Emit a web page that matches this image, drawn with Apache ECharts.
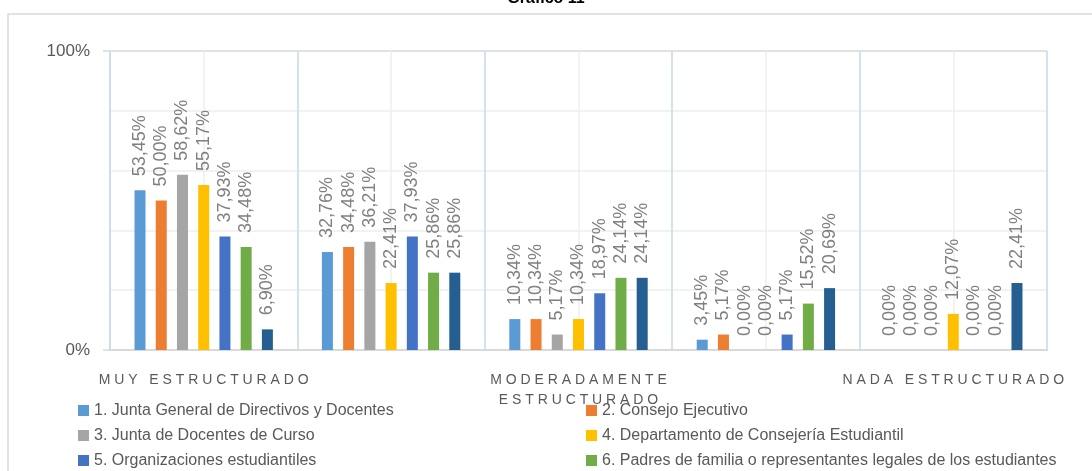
<!DOCTYPE html>
<html>
<head>
<meta charset="utf-8">
<script src="https://cdn.jsdelivr.net/npm/echarts@6/dist/echarts.min.js"></script>
<style>
  html, body { margin: 0; padding: 0; background: #fff; }
  #chart { width: 1092px; height: 471px; }
</style>
</head>
<body>
<div id="chart"></div>
<script>
// categorías del eje X
const categories = ['MUY ESTRUCTURADO', 'ESTRUCTURADO', 'MODERADAMENTE ESTRUCTURADO', 'POCO ESTRUCTURADO', 'NADA ESTRUCTURADO']

const seriesNames = [
  '1. Junta General de Directivos y Docentes',
  '2. Consejo Ejecutivo',
  '3. Junta de Docentes de Curso',
  '4. Departamento de Consejería Estudiantil',
  '5. Organizaciones estudiantiles',
  '6. Padres de familia o representantes legales de los estudiantes',
  '7. Otros'
]

// porcentajes por organismo
const juntaGeneral = [53.45, 32.76, 10.34, 3.45, 0.00]
const consejoEjecutivo = [50.00, 34.48, 10.34, 5.17, 0.00]
const juntaDocentes = [58.62, 36.21, 5.17, 0.00, 0.00]
const consejeria = [55.17, 22.41, 10.34, 0.00, 12.07]
const organizaciones = [37.93, 37.93, 18.97, 5.17, 0.00]
const padres = [34.48, 25.86, 24.14, 15.52, 0.00]
const otros = [6.90, 25.86, 24.14, 20.69, 22.41]

const yTicks = [0, 100]

const values = [juntaGeneral, consejoEjecutivo, juntaDocentes, consejeria, organizaciones, padres, otros]
const colors = ['#5B9BD5', '#ED7D31', '#A5A5A5', '#FFC000', '#4472C4', '#70AD47', '#255E91']

const FONT = 'Liberation Sans, Arial, sans-serif'

var myChart = echarts.init(document.getElementById('chart'))

const series = seriesNames.map((name, i) => ({
  name: name,
  type: 'bar',
  data: values[i],
  barWidth: 11,
  barGap: '93%',
  itemStyle: { color: colors[i] },
  label: {
    show: true,
    position: 'top',
    rotate: 90,
    align: 'left',
    verticalAlign: 'middle',
    distance: 14,
    fontFamily: FONT,
    fontSize: 18,
    color: '#808080',
    formatter: p => p.value.toFixed(2).replace('.', ',') + '%'
  }
}))

const legendStyle = {
  orient: 'vertical',
  top: 397,
  height: 200,
  icon: 'rect',
  itemWidth: 11,
  itemHeight: 11,
  itemGap: 8,
  textStyle: { fontFamily: FONT, fontSize: 16, color: '#595959', lineHeight: 17 }
}

myChart.setOption({
  animation: false,
  title: {
    text: 'Gráfico 11',
    left: 'center',
    top: -14,
    textStyle: { fontFamily: FONT, fontSize: 16, fontWeight: 'bold', color: '#000' }
  },
  graphic: [{
    type: 'rect',
    silent: true,
    z: -10,
    shape: { x: 8, y: 14, width: 1200, height: 600 },
    style: { fill: 'none', stroke: '#d9d9d9', lineWidth: 1.5 }
  }],
  grid: { left: 110, right: 45, top: 51, bottom: 121 },
  legend: [
    Object.assign({ left: 73, data: [seriesNames[0], seriesNames[2], seriesNames[4], seriesNames[6]] }, legendStyle),
    Object.assign({ left: 581, data: [seriesNames[1], seriesNames[3], seriesNames[5]] }, legendStyle)
  ],
  xAxis: [
    {
      type: 'category',
      data: categories,
      z: 1,
      axisLine: { lineStyle: { color: '#d9d9d9', width: 2 } },
      axisTick: { show: false },
      splitLine: { show: true, interval: 0, lineStyle: { color: '#c9dcf0', width: 1.5 } },
      axisLabel: {
        interval: 1,
        margin: 20,
        fontFamily: FONT,
        fontSize: 14,
        lineHeight: 20,
        color: '#595959',
        formatter: v => {
          var words = v.split(' ').map(w => w.split('').join(' '))
          return v.length > 20 ? words.join('\n') : words.join('   ')
        }
      }
    },
    {
      // líneas intermedias de la cuadrícula
      type: 'value',
      min: 0,
      max: 10,
      interval: 1,
      z: 0,
      position: 'top',
      axisLine: { show: false },
      axisTick: { show: false },
      axisLabel: { show: false },
      splitLine: { show: true, lineStyle: { color: '#eeeeee', width: 1.5 } }
    }
  ],
  yAxis: {
    type: 'value',
    min: yTicks[0],
    max: yTicks[1],
    interval: 100,
    axisLine: { show: true, lineStyle: { color: '#d9d9d9', width: 1.5 } },
    axisTick: { show: true, length: 7, lineStyle: { color: '#d9d9d9', width: 1.5 } },
    splitLine: { show: true, lineStyle: { color: '#d9d9d9', width: 1.5 } },
    minorTick: { show: false, splitNumber: 5 },
    minorSplitLine: { show: true, lineStyle: { color: '#eeeeee', width: 1.5 } },
    axisLabel: {
      margin: 20,
      fontFamily: FONT,
      fontSize: 17,
      color: '#595959',
      formatter: '{value}%'
    }
  },
  series: series
})
</script>
</body>
</html>
